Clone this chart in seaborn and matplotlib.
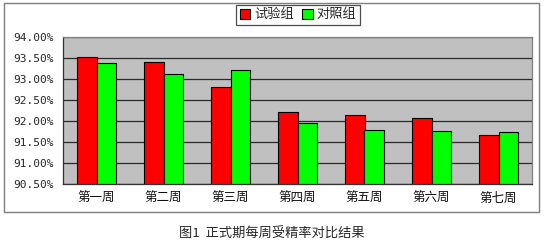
import matplotlib
matplotlib.use("Agg")
import matplotlib.pyplot as plt
from matplotlib.patches import Rectangle, Patch
from matplotlib.ticker import FixedLocator, FuncFormatter
import numpy as np
import pandas as pd
import seaborn as sns

# Weekly fertilization rate (%) for the two groups
weeks = ["第一周", "第二周", "第三周", "第四周", "第五周", "第六周", "第七周"]
trial_group = [93.52, 93.41, 92.82, 92.21, 92.14, 92.06, 91.67]
control_group = [93.38, 93.11, 93.21, 91.96, 91.78, 91.77, 91.75]
series_names = ["试验组", "对照组"]
y_ticks = [90.5, 91.0, 91.5, 92.0, 92.5, 93.0, 93.5, 94.0]
caption = "图1  正式期每周受精率对比结果"

df = pd.DataFrame({
    "week": weeks * 2,
    "rate": trial_group + control_group,
    "group": [series_names[0]] * len(weeks) + [series_names[1]] * len(weeks),
})

sns.set_style("white")
plt.rcParams["font.family"] = ["Noto Sans CJK SC", "DejaVu Sans"]

W, H = 546, 243
fig = plt.figure(figsize=(W / 100, H / 100), dpi=100)
fig.patch.set_facecolor("white")

# Outer chart frame
fig.patches.append(Rectangle((4 / W, 1 - 212 / H), 535 / W, 209 / H,
                             transform=fig.transFigure, fill=False,
                             edgecolor="#7f7f7f", linewidth=1.0))

ax = fig.add_axes([63 / W, 1 - 184 / H, (532 - 63) / W, (184 - 37) / H])
ax.set_facecolor("#c0c0c0")

colors = {"试验组": "#ff0000", "对照组": "#00ff00"}
sns.barplot(data=df, x="week", y="rate", hue="group", hue_order=series_names,
            palette=colors, saturation=1, width=0.58, edgecolor="black",
            linewidth=0.8, ax=ax, legend=False, errorbar=None)

ax.set_ylim(y_ticks[0], y_ticks[-1])
ax.set_xlim(-0.5, len(weeks) - 0.5)
ax.yaxis.set_major_locator(FixedLocator(y_ticks))
ax.yaxis.set_major_formatter(FuncFormatter(lambda v, p: f"{v:.2f}%"))
ax.grid(axis="y", color="#2a2a2a", linewidth=0.9)
ax.grid(axis="x", visible=False)
ax.set_axisbelow(True)

ax.set_xlabel("")
ax.set_ylabel("")
ax.tick_params(axis="y", length=0, pad=7)
ax.tick_params(axis="x", which="major", length=0, pad=6)
for lab in ax.get_yticklabels():
    lab.set_fontfamily("DejaVu Sans Mono")
    lab.set_fontsize(8)
for lab in ax.get_xticklabels():
    lab.set_fontsize(9)
    lab.set_color("#111111")

# Small separators between categories
ax.xaxis.set_minor_locator(FixedLocator(np.arange(0.5, len(weeks) - 0.5, 1.0)))
ax.tick_params(axis="x", which="minor", direction="in", length=3,
               width=0.8, color="#333333")

for side, sp in ax.spines.items():
    sp.set_visible(True)
    sp.set_linewidth(0.9)
    sp.set_color("#808080" if side in ("top", "right") else "#333333")

handles = [Patch(facecolor=colors[n], edgecolor="black", linewidth=0.8, label=n)
           for n in series_names]
leg = fig.legend(handles=handles, loc="upper center",
                 bbox_to_anchor=(298 / W, 1 - 5 / H), ncol=2, frameon=True,
                 fancybox=False, edgecolor="#222222", fontsize=9.5,
                 handlelength=0.8, handleheight=0.8, handletextpad=0.3,
                 columnspacing=0.6, borderpad=0.25, borderaxespad=0)
leg.get_frame().set_linewidth(0.9)

fig.text(272 / W, 1 - 234 / H, caption, ha="center", va="center", fontsize=9.5)

fig.savefig("out.png", dpi=100, facecolor="white")
